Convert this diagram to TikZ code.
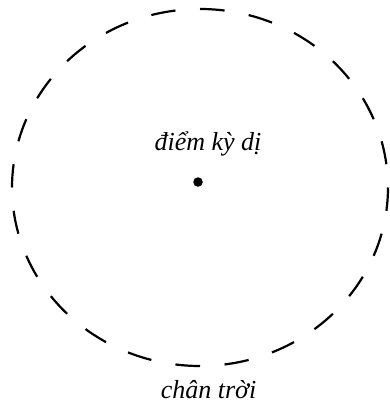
\documentclass[tikz,border=0pt]{standalone}
\usepackage{fontspec}
\setmainfont{Liberation Serif}
\usetikzlibrary{positioning}

\begin{document}
\begin{tikzpicture}[
  x=1pt, y=1pt,
  horizon/.style={line width=2.2pt, black},
  caption/.style={font=\fontsize{26}{30}\selectfont\itshape, inner sep=0pt, anchor=base},
  singdot/.style={circle, fill=black, inner sep=0pt, minimum size=9.5pt}
]
  \useasboundingbox (0,0) rectangle (389,-404);
  \coordinate (centre) at (200,-187.5);

  % event horizon, 24 dashes
  \foreach \a in {7.5,22.5,...,352.5}
    \draw[horizon] (centre) ++(\a:188 and 178.5) arc[start angle=\a, delta angle=7.5, x radius=188, y radius=178.5];

  \node[singdot] (sing) at (198,-182) {};
  \node[caption] (singlabel) at (208,-150) {điểm kỳ dị};
  \node[caption] (horizonlabel) at (208.5,-398) {chân trời};
\end{tikzpicture}
\end{document}
